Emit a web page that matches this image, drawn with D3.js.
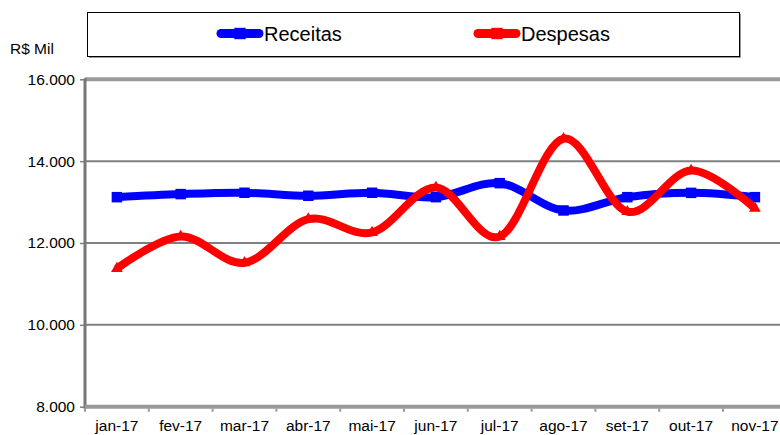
<!DOCTYPE html>
<html>
<head>
<meta charset="utf-8">
<script src="https://cdn.jsdelivr.net/npm/d3@7"></script>
<style>
  body { margin: 0; background: #fff; }
  svg { display: block; font-family: "Liberation Sans", Arial, sans-serif; }
</style>
</head>
<body>
<div id="chart"></div>
<script>
const months = ["jan-17", "fev-17", "mar-17", "abr-17", "mai-17", "jun-17",
  "jul-17", "ago-17", "set-17", "out-17", "nov-17"];
const receitas = [13120, 13195, 13228, 13154, 13228, 13120, 13462, 12795, 13120, 13225, 13120];
const despesas = [11377, 12160, 11516, 12583, 12257, 13356, 12157, 14548, 12765, 13773, 12847];
const yTicks = [8000, 10000, 12000, 14000, 16000];

const width = 780, height = 435;
const margin = { top: 79.3, left: 85, bottom: 435 - 406.7 };
const bandW = 63.8;

const svg = d3.select("#chart").append("svg")
  .attr("width", width)
  .attr("height", height);

const x = d3.scaleBand()
  .domain(months)
  .range([margin.left, margin.left + bandW * months.length])
  .padding(0);

const y = d3.scaleLinear()
  .domain([8000, 16000])
  .range([height - margin.bottom, margin.top]);

const fmt = d3.formatLocale({ decimal: ",", thousands: ".", grouping: [3], currency: ["R$ ", ""] })
  .format(",.0f");

// gridlines
svg.append("g")
  .selectAll("line")
  .data(yTicks.filter(d => d > 8000 && d < 16000))
  .join("line")
  .attr("x1", margin.left)
  .attr("x2", width)
  .attr("y1", d => y(d))
  .attr("y2", d => y(d))
  .attr("stroke", "#808080")
  .attr("stroke-width", 2);

// top border
svg.append("line")
  .attr("x1", margin.left).attr("x2", width)
  .attr("y1", y(16000)).attr("y2", y(16000))
  .attr("stroke", "#999").attr("stroke-width", 4);

// y axis
const yAxis = svg.append("g")
  .attr("transform", `translate(${margin.left},0)`)
  .call(d3.axisLeft(y).tickValues(yTicks).tickFormat(fmt).tickSize(5).tickPadding(5));
yAxis.select(".domain").remove();
yAxis.selectAll(".tick line").attr("stroke", "#808080").attr("stroke-width", 1.5);
yAxis.selectAll(".tick text")
  .attr("fill", "#000")
  .style("font-size", "15.5px")
  .style("font-family", "'Liberation Sans', Arial, sans-serif");

svg.append("line")
  .attr("x1", margin.left).attr("x2", margin.left)
  .attr("y1", y(16000) - 1).attr("y2", y(8000) + 2)
  .attr("stroke", "#777").attr("stroke-width", 3);

// x axis
svg.append("line")
  .attr("x1", margin.left).attr("x2", width)
  .attr("y1", y(8000)).attr("y2", y(8000))
  .attr("stroke", "#999").attr("stroke-width", 4);

const bounds = months.map(m => x(m)).concat([x(months[months.length - 1]) + bandW]);
svg.append("g")
  .selectAll("line")
  .data(bounds)
  .join("line")
  .attr("x1", d => d).attr("x2", d => d)
  .attr("y1", y(8000) + 2).attr("y2", y(8000) + 5)
  .attr("stroke", "#999").attr("stroke-width", 2);

svg.append("g")
  .selectAll("text")
  .data(months)
  .join("text")
  .attr("x", d => x(d) + bandW / 2)
  .attr("y", 431)
  .attr("text-anchor", "middle")
  .style("font-size", "15.5px")
  .text(d => d);

// axis title
svg.append("text")
  .attr("x", 10)
  .attr("y", 54)
  .style("font-size", "15.5px")
  .text("R$ Mil");

// lines
const cx = (d, i) => x(months[i]) + bandW / 2;
const line = d3.line()
  .x(cx)
  .y(d => y(d))
  .curve(d3.curveCatmullRom.alpha(0));

const series = [
  { name: "Receitas", values: receitas, color: "#0000ff", marker: d3.symbolSquare, size: 110 },
  { name: "Despesas", values: despesas, color: "#ff0000", marker: d3.symbolTriangle, size: 60 }
];

series.forEach(s => {
  svg.append("path")
    .attr("d", line(s.values))
    .attr("fill", "none")
    .attr("stroke", s.color)
    .attr("stroke-width", 8)
    .attr("stroke-linejoin", "round");

  svg.append("g")
    .selectAll("path")
    .data(s.values)
    .join("path")
    .attr("transform", (d, i) => `translate(${cx(d, i)},${y(d)})`)
    .attr("d", d3.symbol().type(s.marker).size(s.size))
    .attr("fill", s.color);
});

// legend
const legend = svg.append("g");
legend.append("rect")
  .attr("x", 89).attr("y", 14)
  .attr("width", 652).attr("height", 44)
  .attr("fill", "#999");
legend.append("rect")
  .attr("x", 87.5).attr("y", 12.5)
  .attr("width", 652).attr("height", 44)
  .attr("fill", "#fff")
  .attr("stroke", "#000")
  .attr("stroke-width", 1);

const legendPos = [217, 474];
series.forEach((s, i) => {
  const lx = legendPos[i];
  legend.append("line")
    .attr("x1", lx + 4).attr("x2", lx + 42)
    .attr("y1", 33.5).attr("y2", 33.5)
    .attr("stroke", s.color)
    .attr("stroke-width", 9)
    .attr("stroke-linecap", "round");
  legend.append("path")
    .attr("transform", `translate(${lx + 23},33.5)`)
    .attr("d", d3.symbol().type(d3.symbolSquare).size(130))
    .attr("fill", s.color);
  legend.append("text")
    .attr("x", lx + 47)
    .attr("y", 41)
    .style("font-size", "20px")
    .text(s.name);
});
</script>
</body>
</html>
